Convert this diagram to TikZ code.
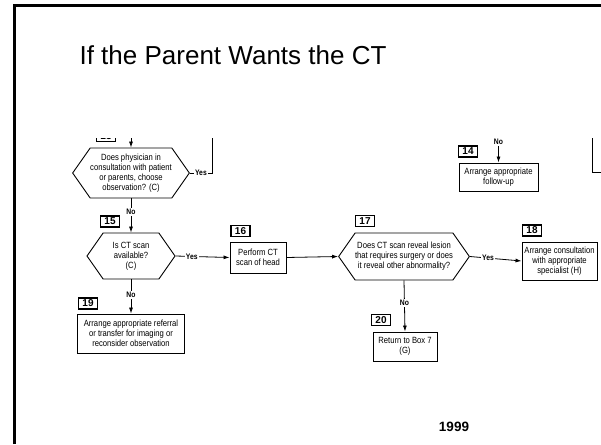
\documentclass[tikz,border=0pt]{standalone}
\usepackage{fontspec}
\setmainfont{Liberation Sans}
\newfontfamily\flowfont[FakeStretch=0.85]{Liberation Sans}
\usetikzlibrary{arrows.meta}
\usetikzlibrary{shapes.symbols}

\tikzset{
  box/.style={draw, line width=0.9pt, align=center, inner sep=0pt,
    font=\flowfont\fontsize{9}{10}\selectfont},
  hexa/.style={box, shape=signal, signal to=west and east, signal pointer angle=110},
  numbox/.style={draw, line width=1.4pt, inner sep=0pt, minimum width=19pt, minimum height=11pt,
    font=\bfseries\fontsize{10}{10}\selectfont},
  answer/.style={fill=white, inner sep=1pt, font=\flowfont\bfseries\fontsize{8}{8}\selectfont},
  flow/.style={line width=0.8pt},
}

\begin{document}
\begin{tikzpicture}[x=1pt,y=-1pt,>={Latex[length=6pt,width=4pt]}]
\useasboundingbox (0,0) rectangle (601,444);
% slide frame and title
\draw[line width=3pt] (14,444) -- (14,6) -- (601,6);
\node[anchor=base, font=\fontsize{26}{30}\selectfont] (title) at (233,64) {If the Parent Wants the CT};

% decisions
\node[hexa, minimum width=108pt, minimum height=50pt] (h1) at (131,173)
  {Does physician in\\consultation with patient\\or parents, choose\\observation? (C)};
\node[hexa, minimum width=88pt, minimum height=46pt] (h2) at (131,256)
  {Is CT scan\\available?\\(C)};
\node[hexa, minimum width=122pt, minimum height=47pt] (h17) at (404,256.5)
  {Does CT scan reveal lesion\\that requires surgery or does\\it reveal other abnormality?};

% actions
\node[box, minimum width=56pt, minimum height=31pt] (b16) at (258,257.5) {Perform CT\\scan of head};
\node[box, minimum width=107pt, minimum height=39pt] (b19) at (131,333.5)
  {Arrange appropriate referral\\or transfer for imaging or\\reconsider observation};
\node[box, minimum width=64pt, minimum height=29pt] (b20) at (405,346.5) {Return to Box 7\\(G)};
\node[box, minimum width=79pt, minimum height=28pt] (b14) at (498.5,177) {Arrange appropriate\\follow-up};
\node[box, minimum width=75pt, minimum height=38pt] (b18) at (559.5,261)
  {Arrange consultation\\with appropriate\\specialist (H)};

% box numbers
\node[numbox] (n15) at (110,221.5) {15};
\node[numbox] (n19) at (88,303.5) {19};
\node[numbox] (n16) at (240.5,231) {16};
\node[numbox] (n17) at (365,221) {17};
\node[numbox] (n18) at (532,230.5) {18};
\node[numbox] (n20) at (381,320) {20};
\node[numbox] (n14) at (468,151.5) {14};

% connectors
\begin{scope}
\clip (0,138) rectangle (601,444);
\node[numbox] (n13) at (106,136) {13};
\coordinate (intop) at (131,126);
\coordinate (yescorner) at (212,173);
\coordinate (yestop) at (212,126);
\draw[flow,->] (intop) -- (h1.north);
\draw[flow] (h1.east) -- node[answer] {Yes} (yescorner) -- (yestop);
\end{scope}
\draw[flow,->] (h1.south) -- node[answer, pos=0.4] {No} (h2.north);
\draw[flow,->] (h2.east) -- node[answer, pos=0.3] {Yes} (b16.west);
\draw[flow,->] (h2.south) -- node[answer, pos=0.45] {No} (b19.north);
\draw[flow,->] (b16.east) -- (h17.west);
\draw[flow,->] (h17.east) -- node[answer, pos=0.35] {Yes} (b18.west);
\draw[flow,->] (h17.south) -- node[answer, pos=0.44] {No} (b20.north);
\node[answer] (no14) at (498.5,142) {No};
\draw[flow,->] (no14) -- (b14.north);
\coordinate (rtop) at (592,138);
\coordinate (rcorner) at (592,172);
\coordinate (rend) at (601,172);
\draw[flow] (rtop) -- (rcorner) -- (rend);

\node[font=\bfseries\fontsize{13.5}{14}\selectfont] (year) at (454,427) {1999};
\end{tikzpicture}
\end{document}
